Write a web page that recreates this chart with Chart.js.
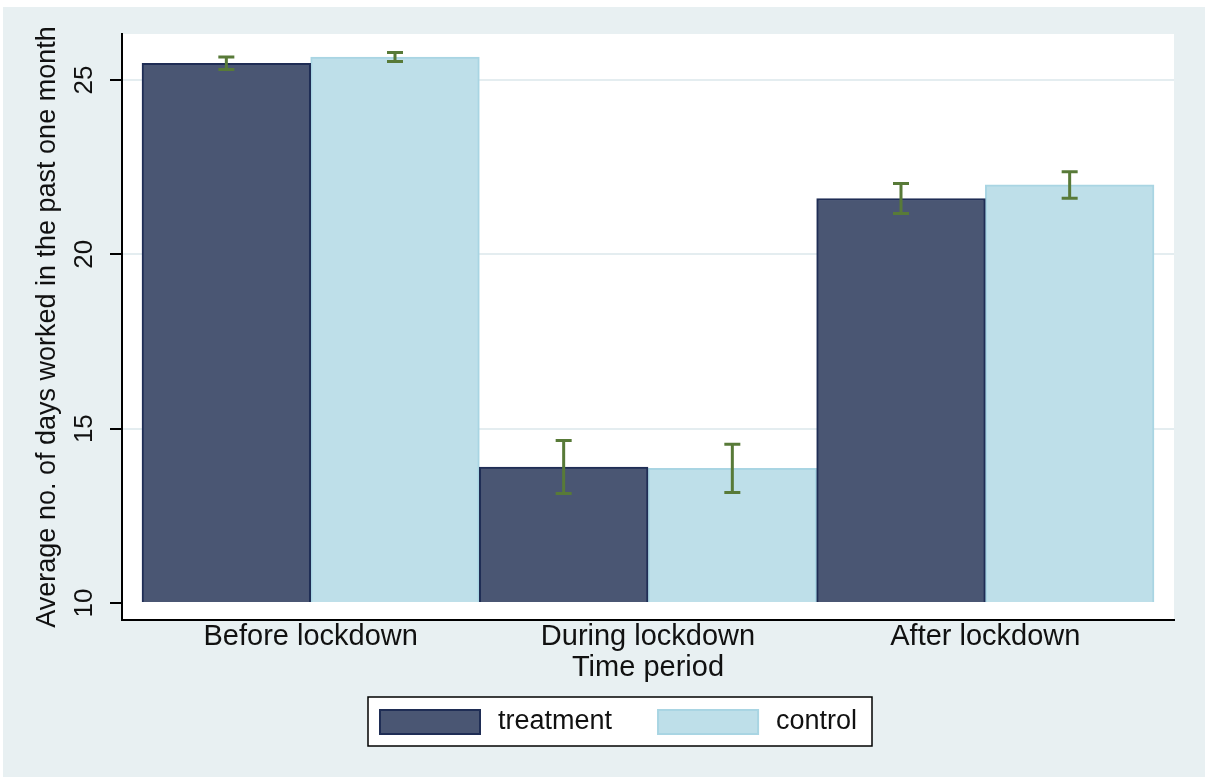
<!DOCTYPE html>
<html>
<head>
<meta charset="utf-8">
<script src="https://cdn.jsdelivr.net/npm/chart.js@4.4.1/dist/chart.umd.min.js"></script>
<style>
  html, body { margin: 0; padding: 0; background: #fff; }
</style>
</head>
<body>
<canvas id="grafico" width="1210" height="778"></canvas>
<script>
// valores
const periodos = ["Before lockdown", "During lockdown", "After lockdown"];
const treatment = [25.48, 13.90, 21.60];
const control = [25.66, 13.86, 21.99];
const treatmentErr = [0.18, 0.76, 0.43];
const controlErr = [0.13, 0.69, 0.38];
const yTicks = [10, 15, 20, 25];

const FUENTE = '"Liberation Sans", Arial, sans-serif';

const fondo = {
  id: 'fondo',
  beforeDraw(chart) {
    const { ctx, chartArea: a, width, height } = chart;
    ctx.save();
    ctx.fillStyle = '#ffffff';
    ctx.fillRect(0, 0, width, height);
    ctx.fillStyle = '#e8f0f2';
    ctx.fillRect(3, 7, 1202, 770);
    ctx.fillStyle = '#ffffff';
    ctx.fillRect(a.left, a.top, a.right - a.left, a.bottom - a.top);
    ctx.restore();
  }
};

const barrasError = {
  id: 'barrasError',
  afterDatasetsDraw(chart) {
    const { ctx } = chart;
    const y = chart.scales.y;
    ctx.save();
    ctx.strokeStyle = '#587a38';
    ctx.lineWidth = 3;
    chart.data.datasets.forEach((ds, i) => {
      const meta = chart.getDatasetMeta(i);
      meta.data.forEach((bar, j) => {
        const v = ds.data[j].y;
        const e = ds.errores[j];
        const yTop = y.getPixelForValue(v + e);
        const yBot = y.getPixelForValue(v - e);
        const x = bar.x;
        ctx.beginPath();
        ctx.moveTo(x, yTop); ctx.lineTo(x, yBot);
        ctx.moveTo(x - 8, yTop); ctx.lineTo(x + 8, yTop);
        ctx.moveTo(x - 8, yBot); ctx.lineTo(x + 8, yBot);
        ctx.stroke();
      });
    });
    ctx.restore();
  }
};

const leyenda = {
  id: 'leyenda',
  afterDraw(chart) {
    const { ctx } = chart;
    const x0 = 368, y0 = 697, w = 504, h = 49;
    ctx.save();
    ctx.fillStyle = '#fff';
    ctx.fillRect(x0, y0, w, h);
    ctx.strokeStyle = '#000';
    ctx.lineWidth = 1.5;
    ctx.strokeRect(x0, y0, w, h);
    ctx.font = '27px ' + FUENTE;
    ctx.textBaseline = 'middle';
    let x = x0 + 11;
    chart.data.datasets.forEach(ds => {
      ctx.fillStyle = ds.backgroundColor;
      ctx.fillRect(x, y0 + 12, 102, 26);
      ctx.strokeStyle = ds.borderColor;
      ctx.lineWidth = 2;
      ctx.strokeRect(x + 1, y0 + 13, 100, 24);
      x += 102 + 17;
      ctx.fillStyle = '#111';
      ctx.fillText(ds.label, x, y0 + 25);
      x += ctx.measureText(ds.label).width + 45;
    });
    ctx.restore();
  }
};

new Chart(document.getElementById('grafico'), {
  type: 'bar',
  data: {
    datasets: [
      {
        label: 'treatment',
        data: treatment.map((v, i) => ({ x: i + 1, y: v })),
        errores: treatmentErr,
        base: 10,
        backgroundColor: '#4a5673',
        borderColor: '#1f2d55',
        borderWidth: 2
      },
      {
        label: 'control',
        data: control.map((v, i) => ({ x: i + 1, y: v })),
        errores: controlErr,
        base: 10,
        backgroundColor: '#bedfe9',
        borderColor: '#a9d5e3',
        borderWidth: 2
      }
    ]
  },
  options: {
    responsive: false,
    animation: false,
    devicePixelRatio: 1,
    categoryPercentage: 1,
    barPercentage: 1,
    layout: { padding: { left: 0, top: 34, right: 36, bottom: 88 } },
    plugins: { legend: { display: false }, tooltip: { enabled: false } },
    scales: {
      x: {
        type: 'linear',
        offset: false,
        min: 0.4407,
        max: 3.5593,
        afterBuildTicks: s => { s.ticks = periodos.map((_, i) => ({ value: i + 1 })); },
        afterFit: s => { s.height = 70; },
        ticks: {
          callback: v => periodos[v - 1],
          font: { family: FUENTE, size: 29 },
          color: '#111',
          padding: 0,
          maxRotation: 0,
          autoSkip: false
        },
        grid: { display: false, drawTicks: false, offset: false },
        border: { display: true, color: '#000', width: 2 },
        title: {
          display: true,
          text: 'Time period',
          font: { family: FUENTE, size: 29 },
          color: '#111',
          padding: { top: 0, bottom: 5 }
        }
      },
      y: {
        min: 9.5125,
        max: 26.319,
        afterBuildTicks: s => { s.ticks = yTicks.map(v => ({ value: v })); },
        afterFit: s => { s.width = 122; },
        ticks: {
          font: { family: FUENTE, size: 26 },
          color: '#111',
          minRotation: 90,
          maxRotation: 90,
          crossAlign: 'center',
          padding: 11
        },
        grid: {
          color: c => (c.tick && c.tick.value === 10) ? 'rgba(0,0,0,0)' : '#e4edf0',
          lineWidth: 2,
          tickLength: 12,
          tickColor: '#000',
          tickWidth: 2
        },
        border: { color: '#000', width: 2 },
        title: {
          display: true,
          text: 'Average no. of days worked in the past one month',
          font: { family: FUENTE, size: 27 },
          color: '#111',
          padding: { top: 31, bottom: 0 }
        }
      }
    }
  },
  plugins: [fondo, barrasError, leyenda]
});
</script>
</body>
</html>
